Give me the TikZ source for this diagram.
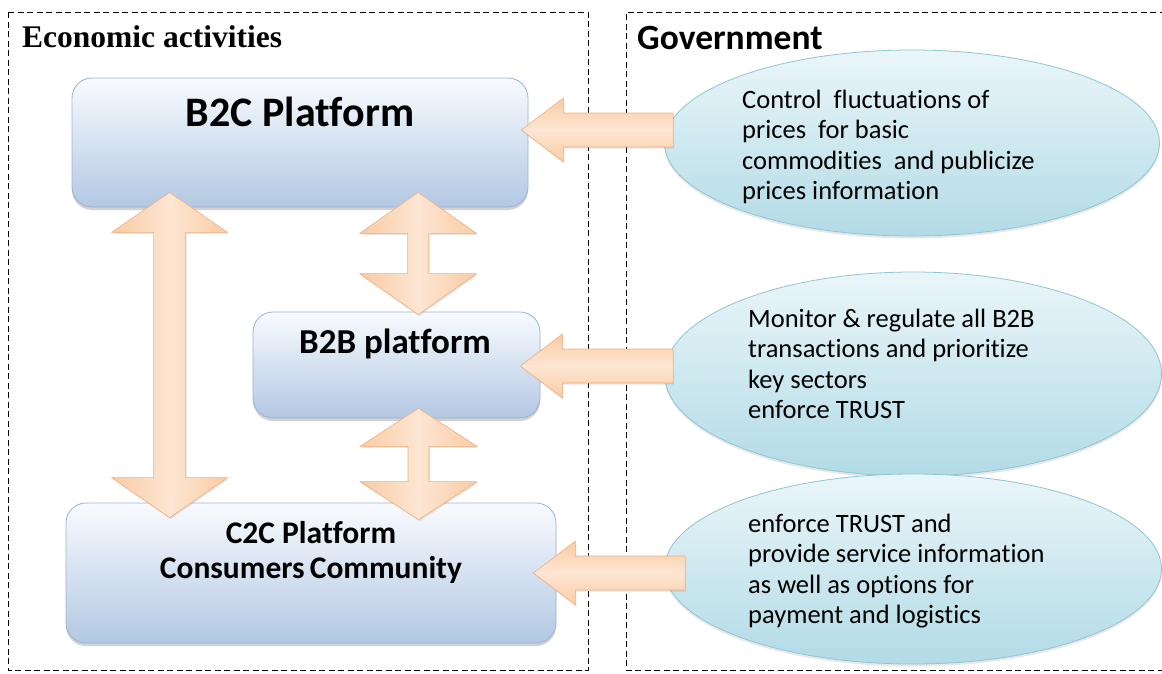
\documentclass[tikz,border=0pt]{standalone}
\usepackage{fontspec}
\setmainfont{Carlito}[Ligatures=NoCommon]
\newfontfamily\titleserif{Liberation Serif}
\usetikzlibrary{shapes.geometric,shadows,calc}

\definecolor{boxtop}{HTML}{F8FBFE}
\definecolor{boxbot}{HTML}{B3C8E3}
\definecolor{boxedge}{HTML}{9AB3D4}
\definecolor{elltop}{HTML}{EAF6F9}
\definecolor{ellbot}{HTML}{B2DBE6}
\definecolor{elledge}{HTML}{8FC4D4}
\definecolor{arrlight}{HTML}{FDE6D3}
\definecolor{arrmid}{HTML}{FACBA3}
\definecolor{arredge}{HTML}{EFB080}

% horizontal block arrow pointing left: #1 tip, #2 tail
\newcommand\leftblockarrow[2]{%
  \path[blockarrowh] let \p1=(#1), \p2=(#2) in
    (\x1,\y1) -- (\x1+42pt,\y1+32pt) -- (\x1+42pt,\y1+17pt) -- (\x2,\y1+17pt)
    -- (\x2,\y1-17pt) -- (\x1+42pt,\y1-17pt) -- (\x1+42pt,\y1-32pt) -- cycle;}

% vertical double block arrow: #1 top tip, #2 bottom tip,
% #3 head half width, #4 shaft half width, #5 head length
\newcommand\updownblockarrow[5]{%
  \path[blockarrowv] let \p1=(#1), \p2=(#2) in
    (\x1,\y1) -- (\x1+#3,\y1-#5) -- (\x1+#4,\y1-#5) -- (\x1+#4,\y2+#5)
    -- (\x1+#3,\y2+#5) -- (\x1,\y2) -- (\x1-#3,\y2+#5) -- (\x1-#4,\y2+#5)
    -- (\x1-#4,\y1-#5) -- (\x1-#3,\y1-#5) -- cycle;}

\begin{document}
\begin{tikzpicture}[x=1pt,y=-1pt,
  frame/.style={draw=black, line width=0.7pt, dash pattern=on 6pt off 3.5pt},
  platform/.style={rectangle, draw=boxedge, line width=0.8pt, rounded corners=20pt,
    top color=boxtop, bottom color=boxbot, inner sep=0pt,
    drop shadow={shadow xshift=0pt, shadow yshift=-3pt, opacity=0.35}},
  platformtext/.style={inner sep=0pt, anchor=base, font=\bfseries},
  govbubble/.style={ellipse, draw=elledge, line width=0.8pt,
    top color=elltop, bottom color=ellbot, inner sep=0pt,
    drop shadow={shadow xshift=0pt, shadow yshift=-2.5pt, opacity=0.18}},
  govtext/.style={inner sep=0pt, anchor=north west, align=left,
    font=\fontsize{26.5}{30.5}\selectfont},
  blockarrowh/.style={draw=arredge, line width=0.6pt, top color=arrmid,
    bottom color=arrmid, middle color=arrlight,
    drop shadow={shadow xshift=1pt, shadow yshift=-1.5pt, opacity=0.2}},
  blockarrowv/.style={draw=arredge, line width=0.6pt, left color=arrmid,
    right color=arrmid, middle color=arrlight,
    drop shadow={shadow xshift=1pt, shadow yshift=-1.5pt, opacity=0.2}}]

\fill[white] (0,0) rectangle (1162,673);
\useasboundingbox (0,0) rectangle (1162,673);

% the two dashed panels
\draw[frame] (8,12) rectangle (588,670);
\draw[frame] (1175,12) -- (626,12) -- (626,670) -- (1175,670);

\node[inner sep=0pt, anchor=base west, font=\titleserif\bfseries\fontsize{31.5}{35}\selectfont]
  (econ) at (22,47) {Economic activities};
\node[inner sep=0pt, anchor=base west, font=\bfseries\fontsize{35.5}{40}\selectfont]
  (gov) at (637,49) {Government};

% platforms
\node[platform, minimum width=456pt, minimum height=129pt] (b2c) at (300,142.5) {};
\node[platform, minimum width=287pt, minimum height=106pt] (b2b) at (396.5,365) {};
\node[platform, minimum width=490pt, minimum height=140pt] (c2c) at (311,573) {};

\node[platformtext, font=\bfseries\fontsize{42}{46}\selectfont] (b2ct) at (300,126) {B2C Platform};
\node[platformtext, font=\bfseries\fontsize{35}{39}\selectfont] (b2bt) at (395,353) {B2B platform};
\node[platformtext, font=\bfseries\fontsize{31.5}{35}\selectfont] (c2ct) at (311,543) {C2C Platform};
\node[platformtext, font=\bfseries\fontsize{31.5}{35}\selectfont] (c2cu) at (311,578) {Consumers\hspace{-2pt} Community};

% government roles
\node[govbubble, minimum width=495pt, minimum height=186pt] (g1) at (912,143) {};
\node[govbubble, minimum width=497pt, minimum height=204pt] (g2) at (913,374) {};
\node[govbubble, minimum width=497pt, minimum height=190pt] (g3) at (913,569) {};

\node[govtext] (g1t) at (742,89.5) {Control\ \ fluctuations of\\prices\ \ for basic\\commodities\ \ and publicize\\prices information};
\node[govtext] (g2t) at (748,308.5) {Monitor \& regulate all B2B\\transactions and prioritize\\key sectors\\enforce TRUST};
\node[govtext] (g3t) at (748,513.5) {enforce TRUST and\\provide service information\\as well as options for\\payment and logistics};

% arrow end points
\coordinate (a1tip) at ($(b2c.east)+(-7,-12.5)$);
\coordinate (a1tail) at ($(g1.west)+(9,0)$);
\coordinate (a2tip) at ($(b2b.east)+(-20,1)$);
\coordinate (a2tail) at ($(g2.west)+(9,0)$);
\coordinate (a3tip) at ($(c2c.east)+(-23,0)$);
\coordinate (a3tail) at ($(g3.west)+(21,0)$);

\coordinate (v1top) at ($(b2c.south west)+(98,-15)$);
\coordinate (v1bot) at ($(c2c.north west)+(104,15)$);
\coordinate (v2top) at ($(b2c.south west)+(346.5,-15)$);
\coordinate (v2bot) at ($(b2b.north)+(22,3)$);
\coordinate (v3top) at ($(b2b.south)+(22,-10)$);
\coordinate (v3bot) at ($(c2c.north)+(107.5,17)$);

% arrows between platforms
\updownblockarrow{v1top}{v1bot}{58pt}{16pt}{40pt}
\updownblockarrow{v2top}{v2bot}{58.5pt}{10.5pt}{41pt}
\updownblockarrow{v3top}{v3bot}{58.5pt}{10.5pt}{38pt}

% arrows from government
\leftblockarrow{a1tip}{a1tail}
\leftblockarrow{a2tip}{a2tail}
\leftblockarrow{a3tip}{a3tail}

\end{tikzpicture}
\end{document}
